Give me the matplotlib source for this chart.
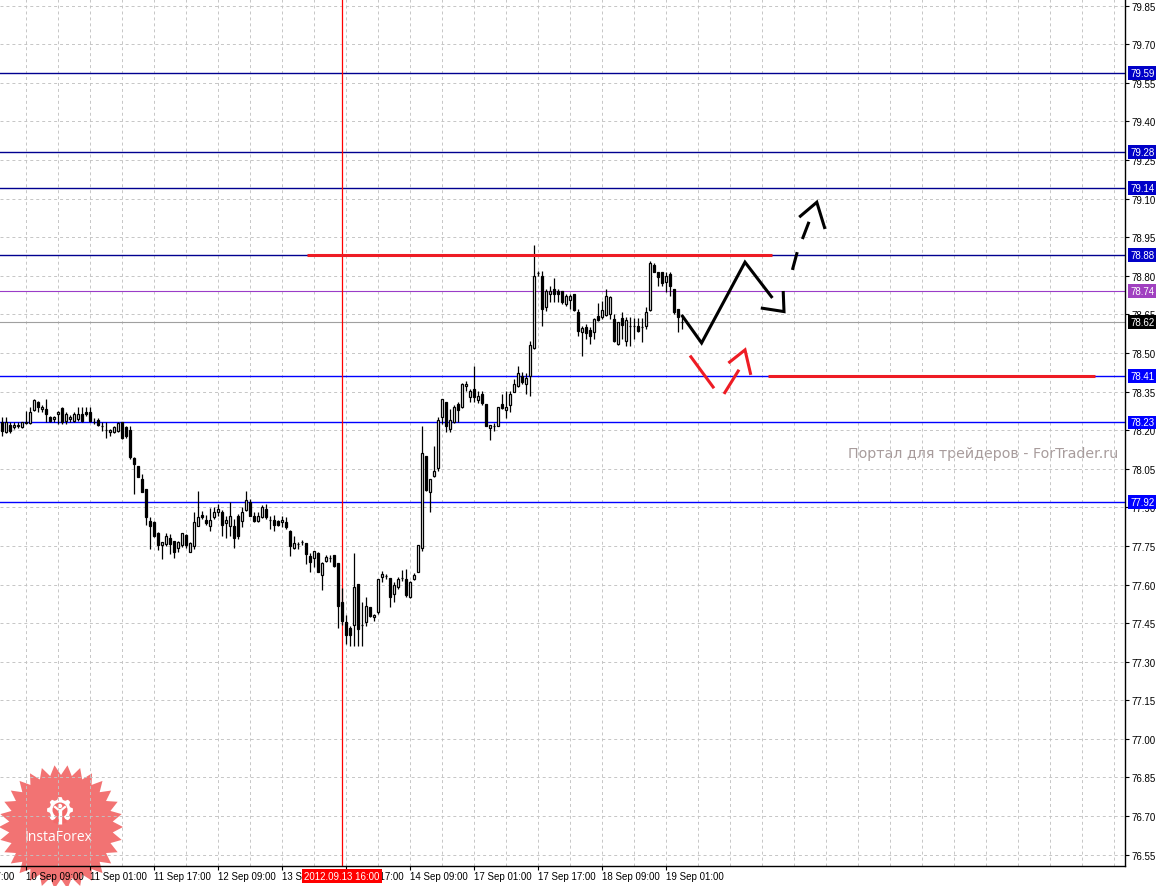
import numpy as np
import matplotlib
matplotlib.use('Agg')
import matplotlib.pyplot as plt
from matplotlib.patches import Polygon, Circle, Wedge

plt.rcParams['font.family'] = ['Liberation Sans', 'DejaVu Sans']

# H1 candles, first bar = 10 Sep 03:00 (bar index 0)
opens = [78.231, 78.192, 78.220, 78.211, 78.215, 78.211, 78.229, 78.228, 78.280, 78.308,
         78.282, 78.282, 78.250, 78.243, 78.263, 78.285, 78.237, 78.243, 78.237, 78.243,
         78.263, 78.272, 78.272, 78.233, 78.241, 78.218, 78.201, 78.192, 78.192, 78.197,
         78.231, 78.211, 78.201, 78.092, 78.060, 78.010, 77.971, 77.848, 77.844, 77.800,
         77.754, 77.758, 77.780, 77.771, 77.741, 77.754, 77.793, 77.728, 77.751, 77.829,
         77.870, 77.852, 77.829, 77.861, 77.881, 77.883, 77.839, 77.829, 77.826, 77.868,
         77.848, 77.891, 77.920, 77.865, 77.848, 77.861, 77.894, 77.852, 77.852, 77.848,
         77.842, 77.845, 77.810, 77.741, 77.757, 77.767, 77.760, 77.710, 77.702, 77.723,
         77.639, 77.693, 77.702, 77.713, 77.684, 77.531, 77.453, 77.431, 77.443, 77.602,
         77.444, 77.453, 77.512, 77.473, 77.492, 77.628, 77.635, 77.626, 77.564, 77.589,
         77.624, 77.622, 77.551, 77.622, 77.650, 77.741, 78.101, 77.961, 78.021, 78.052,
         78.250, 78.311, 78.205, 78.231, 78.302, 78.289, 78.371, 78.328, 78.360, 78.319,
         78.341, 78.302, 78.207, 78.215, 78.218, 78.302, 78.280, 78.298, 78.350, 78.371,
         78.412, 78.380, 78.410, 78.518, 78.811, 78.798, 78.678, 78.730, 78.749, 78.742,
         78.742, 78.691, 78.707, 78.730, 78.661, 78.583, 78.600, 78.591, 78.580, 78.643,
         78.639, 78.648, 78.652, 78.632, 78.535, 78.635, 78.548, 78.606, 78.604, 78.604,
         78.600, 78.606, 78.669, 78.842, 78.814, 78.814, 78.775, 78.807, 78.749, 78.671,
         78.622]
highs = [78.250, 78.250, 78.233, 78.233, 78.233, 78.233, 78.276, 78.289, 78.321, 78.315,
         78.298, 78.321, 78.257, 78.257, 78.276, 78.289, 78.269, 78.259, 78.269, 78.289,
         78.289, 78.289, 78.289, 78.246, 78.246, 78.231, 78.231, 78.205, 78.218, 78.231,
         78.233, 78.218, 78.218, 78.094, 78.062, 78.030, 77.971, 77.861, 77.848, 77.803,
         77.764, 77.800, 77.797, 77.771, 77.771, 77.800, 77.797, 77.764, 77.881, 77.965,
         77.887, 77.870, 77.896, 77.900, 77.913, 77.891, 77.865, 77.920, 77.855, 77.874,
         77.900, 77.965, 77.933, 77.883, 77.881, 77.909, 77.913, 77.868, 77.870, 77.852,
         77.865, 77.861, 77.813, 77.790, 77.764, 77.774, 77.760, 77.723, 77.732, 77.725,
         77.687, 77.715, 77.713, 77.713, 77.684, 77.586, 77.482, 77.440, 77.723, 77.602,
         77.531, 77.551, 77.512, 77.486, 77.622, 77.654, 77.641, 77.626, 77.609, 77.628,
         77.658, 77.661, 77.615, 77.643, 77.754, 78.218, 78.101, 78.010, 78.140, 78.250,
         78.321, 78.311, 78.283, 78.298, 78.309, 78.384, 78.393, 78.360, 78.451, 78.354,
         78.354, 78.302, 78.220, 78.228, 78.289, 78.341, 78.354, 78.354, 78.399, 78.448,
         78.425, 78.422, 78.548, 78.920, 78.820, 78.820, 78.749, 78.762, 78.790, 78.749,
         78.742, 78.730, 78.730, 78.730, 78.671, 78.606, 78.613, 78.600, 78.635, 78.694,
         78.703, 78.749, 78.720, 78.652, 78.622, 78.658, 78.639, 78.639, 78.635, 78.635,
         78.635, 78.678, 78.859, 78.850, 78.816, 78.816, 78.814, 78.814, 78.749, 78.671,
         78.648]
lows = [78.179, 78.189, 78.189, 78.205, 78.207, 78.209, 78.224, 78.224, 78.276, 78.272,
        78.269, 78.231, 78.231, 78.231, 78.224, 78.224, 78.224, 78.231, 78.233, 78.237,
        78.233, 78.257, 78.231, 78.224, 78.218, 78.198, 78.168, 78.179, 78.189, 78.192,
        78.166, 78.168, 78.088, 77.952, 78.017, 77.958, 77.832, 77.738, 77.784, 77.736,
        77.699, 77.751, 77.719, 77.702, 77.725, 77.745, 77.741, 77.725, 77.738, 77.829,
        77.855, 77.832, 77.809, 77.855, 77.865, 77.790, 77.780, 77.790, 77.741, 77.777,
        77.822, 77.887, 77.865, 77.844, 77.844, 77.857, 77.855, 77.816, 77.809, 77.829,
        77.823, 77.816, 77.710, 77.738, 77.738, 77.754, 77.680, 77.650, 77.667, 77.648,
        77.580, 77.689, 77.689, 77.667, 77.431, 77.443, 77.369, 77.363, 77.363, 77.363,
        77.363, 77.440, 77.473, 77.460, 77.486, 77.609, 77.622, 77.512, 77.531, 77.583,
        77.615, 77.551, 77.548, 77.619, 77.648, 77.730, 77.965, 77.881, 78.017, 78.043,
        78.224, 78.192, 78.192, 78.228, 78.231, 78.285, 78.354, 78.309, 78.309, 78.306,
        78.298, 78.215, 78.160, 78.198, 78.215, 78.283, 78.246, 78.270, 78.347, 78.367,
        78.380, 78.341, 78.332, 78.516, 78.800, 78.606, 78.665, 78.697, 78.697, 78.697,
        78.691, 78.684, 78.671, 78.665, 78.567, 78.490, 78.555, 78.535, 78.555, 78.626,
        78.632, 78.643, 78.632, 78.542, 78.531, 78.555, 78.529, 78.529, 78.555, 78.583,
        78.542, 78.593, 78.665, 78.814, 78.762, 78.762, 78.738, 78.723, 78.652, 78.580,
        78.594]
closes = [78.196, 78.231, 78.198, 78.220, 78.220, 78.231, 78.231, 78.272, 78.319, 78.289,
          78.289, 78.263, 78.237, 78.250, 78.272, 78.231, 78.263, 78.250, 78.263, 78.263,
          78.237, 78.263, 78.237, 78.231, 78.222, 78.218, 78.201, 78.201, 78.211, 78.228,
          78.168, 78.179, 78.095, 78.069, 78.019, 77.961, 77.861, 77.829, 77.790, 77.754,
          77.764, 77.790, 77.758, 77.728, 77.764, 77.800, 77.754, 77.762, 77.842, 77.861,
          77.861, 77.839, 77.852, 77.883, 77.894, 77.832, 77.852, 77.865, 77.780, 77.790,
          77.881, 77.930, 77.868, 77.848, 77.865, 77.900, 77.861, 77.852, 77.832, 77.832,
          77.852, 77.823, 77.751, 77.762, 77.757, 77.767, 77.719, 77.689, 77.729, 77.650,
          77.684, 77.709, 77.702, 77.671, 77.518, 77.460, 77.404, 77.402, 77.589, 77.428,
          77.444, 77.518, 77.479, 77.482, 77.622, 77.641, 77.635, 77.551, 77.599, 77.622,
          77.624, 77.560, 77.611, 77.639, 77.754, 78.112, 77.969, 78.010, 78.040, 78.241,
          78.321, 78.218, 78.241, 78.289, 78.280, 78.380, 78.380, 78.354, 78.328, 78.334,
          78.306, 78.218, 78.220, 78.215, 78.289, 78.286, 78.289, 78.341, 78.380, 78.422,
          78.389, 78.402, 78.531, 78.798, 78.811, 78.671, 78.742, 78.742, 78.730, 78.730,
          78.697, 78.720, 78.720, 78.668, 78.587, 78.596, 78.578, 78.567, 78.632, 78.630,
          78.669, 78.720, 78.716, 78.548, 78.619, 78.609, 78.630, 78.606, 78.604, 78.587,
          78.600, 78.658, 78.850, 78.816, 78.794, 78.772, 78.801, 78.762, 78.658, 78.639,
          78.620]

price_ticks = [79.85, 79.70, 79.55, 79.40, 79.25, 79.10, 78.95, 78.80, 78.65, 78.50, 78.35, 78.20,
               78.05, 77.90, 77.75, 77.60, 77.45, 77.30, 77.15, 77.00, 76.85, 76.70, 76.55]

time_ticks = [-10, 6, 22, 38, 54, 70, 86, 102, 118, 134, 150, 166]
time_labels = ['7 Sep 17:00', '10 Sep 09:00', '11 Sep 01:00', '11 Sep 17:00', '12 Sep 09:00',
               '13 Sep 01:00', '13 Sep 17:00', '14 Sep 09:00', '17 Sep 01:00', '17 Sep 17:00',
               '18 Sep 09:00', '19 Sep 01:00']

# horizontal levels
navy_levels = [79.59, 79.28, 79.14, 78.88]
blue_levels = [78.41, 78.23, 77.92]
purple_level = 78.74
bid_level = 78.62

# vertical cursor line (2012.09.13 16:00)
cursor_bar = 85
cursor_label = '2012.09.13 16:00'

# red level segments: (start bar, end bar, price)
red_segments = [(76.25, 192.4, 78.88), (191.6, 273.25, 78.41)]

# hand drawn forecast (bar index, price)
black_path_i = [169.9, 174.9, 185.75, 192.6]
black_path_p = [78.648, 78.539, 78.853, 78.714]
black_hook_i = [189.7, 195.5, 195.3]
black_hook_p = [78.675, 78.661, 78.741]
black_dash_i = [(197.6, 198.8), (200.1, 201.75)]
black_dash_p = [(78.823, 78.892), (78.943, 79.010)]
black_head_i = [199.3, 203.7, 205.75]
black_head_p = [79.028, 79.086, 78.982]
red_leg1_i = [172.0, 178.0]
red_leg1_p = [78.490, 78.363]
red_leg2_i = [180.5, 184.25]
red_leg2_p = [78.341, 78.435]
red_head_i = [181.6, 185.75, 187.2]
red_head_p = [78.461, 78.512, 78.415]

W, H = 1165, 887
fig = plt.figure(figsize=(W / 100, H / 100), dpi=100)
fig.patch.set_facecolor('white')

# background layer in pixel coordinates (logo + watermark)
bg = fig.add_axes([0, 0, 1, 1], zorder=0)
bg.set_xlim(0, W)
bg.set_ylim(H, 0)
bg.axis('off')

cx, cy = 61, 828
n_pts = 30
ang = np.linspace(0, 2 * np.pi, 2 * n_pts, endpoint=False)
rad = np.where(np.arange(2 * n_pts) % 2 == 0, 62, 52)
star = np.column_stack([cx + rad * np.cos(ang), cy + rad * np.sin(ang)])
bg.add_patch(Polygon(star, closed=True, facecolor='#F05A5A', edgecolor='none', alpha=0.85))

# gear icon
gx, gy = 60, 811
teeth = []
for k in range(16):
    a = np.deg2rad(k * 22.5)
    r = 13 if k % 2 == 0 else 10.5
    teeth.append((a - np.deg2rad(7), r))
    teeth.append((a + np.deg2rad(7), r))
gear = [(gx + r * np.cos(a), gy + r * np.sin(a)) for a, r in teeth]
bg.add_patch(Polygon(gear, closed=True, facecolor='white', edgecolor='none'))
bg.add_patch(Circle((gx, gy), 7.5, facecolor='#F26A6A', edgecolor='none'))
bg.add_patch(Wedge((gx, gy), 14, 60, 120, facecolor='#F26A6A', edgecolor='none'))
bg.add_patch(Circle((gx, gy - 4), 2.2, facecolor='white', edgecolor='none'))
bg.plot([gx, gx], [gy - 0.5, gy + 14], color='white', lw=2.4, solid_capstyle='butt')
bg.plot([gx - 5, gx, gx + 5], [gy - 3, gy + 1, gy - 3], color='white', lw=1.6)
bg.text(59, 838, 'InstaForex', color='white', fontsize=10, ha='center', va='center',
        family=['Open Sans', 'DejaVu Sans'])

bg.text(848, 454, 'Портал для трейдеров - ForTrader.ru', color='#A89C9C', fontsize=10.3,
        ha='left', va='center', family=['DejaVu Sans'])

# main chart
ax = fig.add_axes([0, 20 / H, 1125 / W, 867 / H], zorder=1)
ax.patch.set_alpha(0)
ax.set_xlim(-0.5, 280.75)
ax.set_ylim(76.506, 79.876)

for s in ['left', 'top']:
    ax.spines[s].set_visible(False)
for s in ['right', 'bottom']:
    ax.spines[s].set_color('black')
    ax.spines[s].set_linewidth(1.0)

grid_kw = dict(color='#C2C2C2', lw=0.65, ls=(0, (3.3, 3.3)), zorder=0.5)
for p in price_ticks:
    ax.axhline(p, **grid_kw)
for i in range(6, 281, 8):
    ax.axvline(i, **grid_kw)

ax.yaxis.tick_right()
ax.set_yticks(price_ticks)
ax.set_yticklabels(['%.2f' % p for p in price_ticks])
ax.tick_params(axis='y', length=3, width=0.8, pad=1.5, labelsize=7, colors='black')

vis_ticks = [t for t in time_ticks if t >= 0]
ax.set_xticks(vis_ticks)
ax.set_xticklabels([])
ax.tick_params(axis='x', length=3, width=0.8, direction='out')
for t, lab in zip(time_ticks, time_labels):
    ax.text(t, -5 / 867, lab, transform=ax.get_xaxis_transform(), ha='left', va='top',
            fontsize=7, color='black', clip_on=False)

# levels
for lv in navy_levels:
    ax.axhline(lv, color='#000090', lw=1.0, zorder=2)
for lv in blue_levels:
    ax.axhline(lv, color='#0000FF', lw=1.0, zorder=2)
ax.axhline(purple_level, color='#9A3CC8', lw=0.8, zorder=2)
ax.axhline(bid_level, color='#A0A0A0', lw=0.8, zorder=2)

ax.axvline(cursor_bar, color='#FF0000', lw=0.9, zorder=2)

# candles
x = np.arange(len(opens))
o = np.array(opens)
c = np.array(closes)
ax.vlines(x, lows, highs, color='black', lw=0.9, zorder=3)
faces = ['white' if cc >= oo else 'black' for oo, cc in zip(o, c)]
ax.bar(x, np.abs(c - o), bottom=np.minimum(o, c), width=0.5, color=faces,
       edgecolor='black', linewidth=0.9, zorder=4)

# red level segments
for x0, x1, lv in red_segments:
    ax.hlines(lv, x0, x1, color='#EE1C24', lw=2.2, zorder=5)

# forecast drawing
fk = dict(lw=2.2, zorder=6, solid_capstyle='butt', solid_joinstyle='miter')
ax.plot(black_path_i, black_path_p, color='black', **fk)
ax.plot(black_hook_i, black_hook_p, color='black', **fk)
for xi, pi in zip(black_dash_i, black_dash_p):
    ax.plot(xi, pi, color='black', **fk)
ax.plot(black_head_i, black_head_p, color='black', **fk)
ax.plot(red_leg1_i, red_leg1_p, color='#EE1C24', **fk)
ax.plot(red_leg2_i, red_leg2_p, color='#EE1C24', **fk)
ax.plot(red_head_i, red_head_p, color='#EE1C24', **fk)

# price boxes on the right scale
box_x = 1.0045
box_kw = dict(transform=ax.get_yaxis_transform(), ha='left', va='center', fontsize=7,
              color='white', zorder=10, clip_on=False)
for lv in navy_levels:
    ax.text(box_x, lv, '%.2f' % lv, bbox=dict(boxstyle='square,pad=0.2', fc='#0000C8', ec='none'),
            **box_kw)
for lv in blue_levels:
    ax.text(box_x, lv, '%.2f' % lv, bbox=dict(boxstyle='square,pad=0.2', fc='#0000FF', ec='none'),
            **box_kw)
ax.text(box_x, purple_level, '%.2f' % purple_level,
        bbox=dict(boxstyle='square,pad=0.2', fc='#A040C0', ec='none'), **box_kw)
ax.text(box_x, bid_level, '%.2f' % bid_level,
        bbox=dict(boxstyle='square,pad=0.2', fc='black', ec='none'), **box_kw)

# cursor time label
ax.text(cursor_bar, -5 / 867, cursor_label, transform=ax.get_xaxis_transform(), ha='center',
        va='top', fontsize=7, color='white', zorder=10, clip_on=False,
        bbox=dict(boxstyle='square,pad=0.2', fc='#FF0000', ec='none'))

fig.savefig('out.png', dpi=100, facecolor='white')
